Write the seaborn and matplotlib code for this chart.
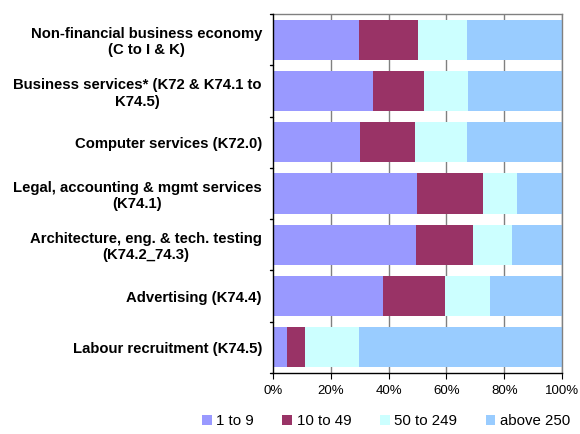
import matplotlib
matplotlib.use("Agg")
import matplotlib.pyplot as plt
import seaborn as sns
import numpy as np
import pandas as pd
from matplotlib.patches import Patch

categories = [
    "Non-financial business economy\n(C to I & K)",
    "Business services* (K72 & K74.1 to\nK74.5)",
    "Computer services (K72.0)",
    "Legal, accounting & mgmt services\n(K74.1)",
    "Architecture, eng. & tech. testing\n(K74.2_74.3)",
    "Advertising (K74.4)",
    "Labour recruitment (K74.5)",
]
series_names = ["1 to 9", "10 to 49", "50 to 249", "above 250"]
s1_9 = [29.6, 34.5, 30.0, 49.7, 49.4, 37.9, 4.7]
s10_49 = [20.5, 17.6, 19.0, 22.8, 19.7, 21.5, 6.3]
s50_249 = [16.9, 15.3, 18.0, 11.8, 13.5, 15.6, 18.6]
s250 = [33.0, 32.6, 33.0, 15.7, 17.4, 25.0, 70.4]
xticks = [0, 20, 40, 60, 80, 100]
xticklabels = ["0%", "20%", "40%", "60%", "80%", "100%"]
colors = ["#9999FF", "#993366", "#CCFFFF", "#99CCFF"]

sns.set_style("white")
plt.rcParams["font.family"] = ["Liberation Sans", "DejaVu Sans"]
plt.rcParams["text.color"] = "black"
plt.rcParams["xtick.color"] = "black"
plt.rcParams["ytick.color"] = "black"

fig = plt.figure(figsize=(5.8, 4.34), dpi=100)
ax = fig.add_axes([273/580, 1-373/434, 289/580, 359/434])

vals = np.array([s1_9, s10_49, s50_249, s250])
tot = vals.sum(axis=0)
vals = vals / tot * 100
cum = np.cumsum(vals, axis=0)

for i in range(3, -1, -1):
    df = pd.DataFrame({"cat": categories, "v": cum[i]})
    sns.barplot(data=df, x="v", y="cat", orient="h", color=colors[i],
                width=0.78, ax=ax, zorder=2, saturation=1, linewidth=0)

ax.set_xlim(0, 100)
ax.set_ylim(6.5, -0.5)
ax.set_xticks(xticks)
ax.set_xticklabels(xticklabels, fontsize=9.5, color="black")
ax.set_yticks(np.arange(len(categories)))
ax.set_yticklabels(categories, fontsize=10.7, fontweight="bold", ha="right",
                   multialignment="center", color="black")
ax.set_xlabel("")
ax.set_ylabel("")
for x in xticks[1:]:
    ax.axvline(x, color="#808080", lw=1, zorder=1)
ax.tick_params(axis="y", length=0, pad=8)
ax.tick_params(axis="x", length=4, direction="out", color="black", pad=5)
for b in np.arange(-0.5, 7, 1):
    ax.plot([-1.2, 0], [b, b], color="black", lw=1, clip_on=False, zorder=5)
for side in ["top", "right"]:
    ax.spines[side].set_color("#808080")
    ax.spines[side].set_linewidth(1)
for side in ["left", "bottom"]:
    ax.spines[side].set_color("black")
    ax.spines[side].set_linewidth(1)
    ax.spines[side].set_zorder(6)
ax.xaxis.set_ticks_position("bottom")

handles = [Patch(facecolor=c, edgecolor="none", label=n) for c, n in zip(colors, series_names)]
fig.legend(handles=handles, loc="center", bbox_to_anchor=(386/580, 1-421/434),
           ncol=4, frameon=False, fontsize=10.8, handlelength=0.65, handleheight=0.65,
           handletextpad=0.3, columnspacing=1.9, labelcolor="black")

fig.savefig("out.png", dpi=100)
